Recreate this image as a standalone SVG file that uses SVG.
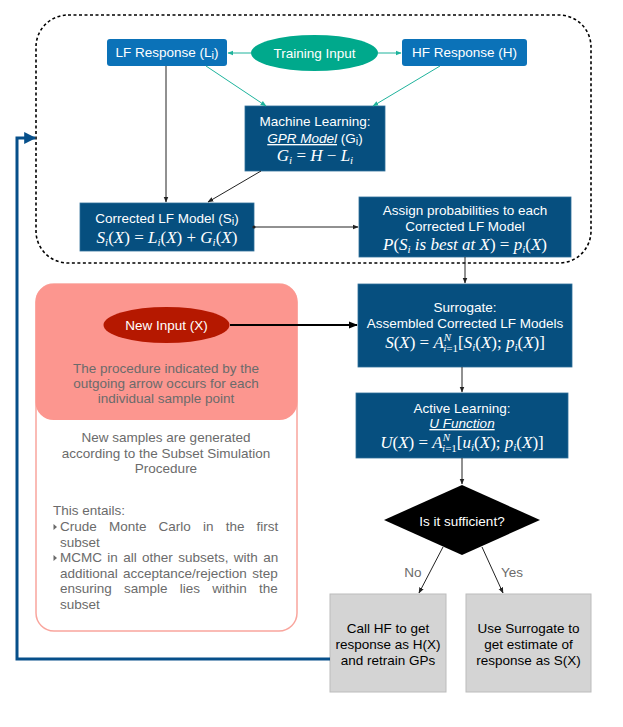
<svg xmlns="http://www.w3.org/2000/svg" width="623" height="727" viewBox="0 0 623 727">
<defs>
<style>
.t{font-family:"Liberation Sans",Arial,sans-serif;font-size:13.5px;text-anchor:middle}
.w{fill:#ffffff}
.k{fill:#000000}
.g{fill:#6b6b6b}
.m{font-family:"Liberation Serif","Times New Roman",serif;font-size:17px;fill:#ffffff;text-anchor:middle}
.i{font-style:italic}
.s{font-size:11px}
.lb{fill:#0b72b8}
.db{fill:#064f7f;stroke:#2f6f9a;stroke-width:0.8}
.gr{fill:#d4d4d4;stroke:#bcbcbc;stroke-width:1}
.ln{stroke:#222;stroke-width:1;fill:none}
.tl{stroke:#1fb39c;stroke-width:1;fill:none}
</style>
<marker id="ak" viewBox="0 0 10 10" refX="9" refY="5" markerWidth="6" markerHeight="6" orient="auto"><path d="M0,1 L10,5 L0,9 z" fill="#222"/></marker>
<marker id="at" viewBox="0 0 10 10" refX="9" refY="5" markerWidth="6" markerHeight="6" orient="auto"><path d="M0,1 L10,5 L0,9 z" fill="#1fb39c"/></marker>
<marker id="ab" viewBox="0 0 10 10" refX="9" refY="5" markerWidth="4" markerHeight="4" orient="auto"><path d="M0,0 L10,5 L0,10 z" fill="#064f8a"/></marker>
<marker id="akb" viewBox="0 0 10 10" refX="9" refY="5" markerWidth="4.5" markerHeight="4.5" orient="auto"><path d="M0,1 L10,5 L0,9 z" fill="#000"/></marker>
<marker id="dot" viewBox="0 0 10 10" refX="5" refY="5" markerWidth="4" markerHeight="4"><circle cx="5" cy="5" r="4" fill="#222"/></marker>
</defs>

<rect x="36" y="15" width="555" height="248" rx="32" fill="none" stroke="#000" stroke-width="1.6" stroke-dasharray="3,2.5"/>

<g id="subset-panel">
<rect x="36" y="284" width="261" height="347" rx="18" fill="#ffffff" stroke="#f9a59d" stroke-width="1.5"/>
<rect x="35.5" y="284" width="262" height="136" rx="18" fill="#fc968f"/>
<text class="t g" x="166" y="373">The procedure indicated by the</text>
<text class="t g" x="166" y="388">outgoing arrow occurs for each</text>
<text class="t g" x="166" y="403">individual sample point</text>
<text class="t g" x="166" y="442">New samples are generated</text>
<text class="t g" x="166" y="458">according to the Subset Simulation</text>
<text class="t g" x="166" y="473">Procedure</text>
<text class="t g" x="53" y="515" style="text-anchor:start">This entails:</text>
<polygon points="53.5,524 53.5,530 57,527" fill="#6b6b6b"/>
<text class="t g" x="60" y="531" style="text-anchor:start;word-spacing:8.4px">Crude Monte Carlo in the first</text>
<text class="t g" x="60" y="547" style="text-anchor:start">subset</text>
<polygon points="53.5,555 53.5,561 57,558" fill="#6b6b6b"/>
<text class="t g" x="60" y="562" style="text-anchor:start;word-spacing:1.6px">MCMC in all other subsets, with an</text>
<text class="t g" x="60" y="578" style="text-anchor:start;word-spacing:1.5px">additional acceptance/rejection step</text>
<text class="t g" x="60" y="593" style="text-anchor:start;word-spacing:8.5px">ensuring sample lies within the</text>
<text class="t g" x="60" y="609" style="text-anchor:start">subset</text>
</g>

<g id="lf-response">
<rect x="107" y="39" width="120" height="27" rx="3" class="lb"/>
<text class="t w" x="167" y="57">LF Response (L<tspan class="s" dy="2">i</tspan><tspan dy="-2">)</tspan></text>
</g>
<g id="training-input">
<ellipse cx="314.5" cy="53" rx="63.5" ry="18" fill="#00a98c"/>
<text class="t w" x="314.5" y="58">Training Input</text>
</g>
<g id="hf-response">
<rect x="402" y="39" width="125" height="27" rx="3" class="lb"/>
<text class="t w" x="464.5" y="57">HF Response (H)</text>
</g>
<g id="machine-learning">
<rect x="245" y="106" width="140" height="65" class="db"/>
<text class="t w" x="315" y="126">Machine Learning:</text>
<text class="t w" x="315" y="143"><tspan class="i" text-decoration="underline">GPR Model</tspan> (G<tspan class="s" dy="2">i</tspan><tspan dy="-2">)</tspan></text>
<text class="m" x="315" y="161"><tspan class="i">G</tspan><tspan class="s i" dy="3">i</tspan><tspan dy="-3"> = </tspan><tspan class="i">H</tspan> − <tspan class="i">L</tspan><tspan class="s i" dy="3">i</tspan></text>
</g>
<g id="corrected-lf">
<rect x="80" y="203" width="174" height="48" class="db"/>
<text class="t w" x="167" y="223">Corrected LF Model (S<tspan class="s" dy="2">i</tspan><tspan dy="-2">)</tspan></text>
<text class="m" x="167" y="243"><tspan class="i">S</tspan><tspan class="s i" dy="3">i</tspan><tspan dy="-3">(</tspan><tspan class="i">X</tspan>) = <tspan class="i">L</tspan><tspan class="s i" dy="3">i</tspan><tspan dy="-3">(</tspan><tspan class="i">X</tspan>) + <tspan class="i">G</tspan><tspan class="s i" dy="3">i</tspan><tspan dy="-3">(</tspan><tspan class="i">X</tspan>)</text>
</g>
<g id="assign-probabilities">
<rect x="359" y="197" width="212" height="60" class="db"/>
<text class="t w" x="465" y="215">Assign probabilities to each</text>
<text class="t w" x="465" y="231">Corrected LF Model</text>
<text class="m" x="465" y="250"><tspan class="i">P</tspan>(<tspan class="i">S</tspan><tspan class="s i" dy="3">i</tspan><tspan class="i" dy="-3"> is best at X</tspan>) = <tspan class="i">p</tspan><tspan class="s i" dy="3">i</tspan><tspan dy="-3">(</tspan><tspan class="i">X</tspan>)</text>
</g>
<g id="surrogate">
<rect x="358" y="284" width="214" height="83" class="db"/>
<text class="t w" x="465" y="312">Surrogate:</text>
<text class="t w" x="465" y="328">Assembled Corrected LF Models</text>
<text class="m" x="465" y="348"><tspan class="i">S</tspan>(<tspan class="i">X</tspan>) = <tspan class="i">A</tspan><tspan class="s i" dy="-7">N</tspan><tspan class="s i" dx="-8" dy="11">i</tspan><tspan class="s" dy="0">=1</tspan><tspan dy="-4">[</tspan><tspan class="i">S</tspan><tspan class="s i" dy="3">i</tspan><tspan dy="-3">(</tspan><tspan class="i">X</tspan>); <tspan class="i">p</tspan><tspan class="s i" dy="3">i</tspan><tspan dy="-3">(</tspan><tspan class="i">X</tspan>)]</text>
</g>
<g id="active-learning">
<rect x="356" y="393" width="212" height="65" class="db"/>
<text class="t w" x="462" y="413">Active Learning:</text>
<text class="t w i" x="462" y="428" text-decoration="underline">U Function</text>
<text class="m" x="462" y="448"><tspan class="i">U</tspan>(<tspan class="i">X</tspan>) = <tspan class="i">A</tspan><tspan class="s i" dy="-7">N</tspan><tspan class="s i" dx="-8" dy="11">i</tspan><tspan class="s" dy="0">=1</tspan><tspan dy="-4">[</tspan><tspan class="i">u</tspan><tspan class="s i" dy="3">i</tspan><tspan dy="-3">(</tspan><tspan class="i">X</tspan>); <tspan class="i">p</tspan><tspan class="s i" dy="3">i</tspan><tspan dy="-3">(</tspan><tspan class="i">X</tspan>)]</text>
</g>
<g id="decision">
<polygon points="462,485 540,520 462,555 384,520" fill="#000"/>
<text class="t w" x="462" y="526">Is it sufficient?</text>
</g>
<g id="new-input">
<ellipse cx="166.5" cy="325" rx="63" ry="18" fill="#b51800"/>
<text class="t w" x="166.5" y="330">New Input (X)</text>
</g>
<g id="call-hf">
<rect x="330" y="594" width="116" height="98" class="gr"/>
<text class="t k" x="388" y="633">Call HF to get</text>
<text class="t k" x="388" y="649">response as H(X)</text>
<text class="t k" x="388" y="665">and retrain GPs</text>
</g>
<g id="use-surrogate">
<rect x="466" y="594" width="125" height="98" class="gr"/>
<text class="t k" x="528.5" y="633">Use Surrogate to</text>
<text class="t k" x="528.5" y="649">get estimate of</text>
<text class="t k" x="528.5" y="665">response as S(X)</text>
</g>

<g id="connectors">
<line class="tl" x1="251" y1="53" x2="228" y2="53" marker-end="url(#at)"/>
<line class="tl" x1="378" y1="53" x2="401" y2="53" marker-end="url(#at)"/>
<line class="tl" x1="206" y1="66" x2="266" y2="106" marker-end="url(#at)"/>
<line class="tl" x1="440" y1="66" x2="373" y2="106" marker-end="url(#at)"/>
<line class="ln" x1="166" y1="66" x2="166" y2="202" marker-end="url(#ak)"/>
<line class="ln" x1="261" y1="171" x2="208" y2="202" marker-end="url(#ak)"/>
<line class="ln" x1="254" y1="227" x2="358" y2="227" marker-start="url(#dot)" marker-end="url(#ak)"/>
<line class="ln" x1="465" y1="257" x2="465" y2="283" marker-end="url(#ak)"/>
<line class="ln" x1="462" y1="367" x2="462" y2="392" marker-end="url(#ak)"/>
<line class="ln" x1="462" y1="458" x2="462" y2="484" marker-end="url(#ak)"/>
<line x1="230" y1="325" x2="357" y2="325" stroke="#000" stroke-width="2" marker-end="url(#akb)"/>
<line class="ln" x1="443" y1="547" x2="419" y2="593" marker-end="url(#ak)"/>
<line class="ln" x1="482" y1="547" x2="503" y2="593" marker-end="url(#ak)"/>
<text class="t g" x="413" y="577">No</text>
<text class="t g" x="512" y="577">Yes</text>
<polyline points="330,659 17,659 17,138 35,138" fill="none" stroke="#064f8a" stroke-width="3" marker-end="url(#ab)"/>
</g>
</svg>
